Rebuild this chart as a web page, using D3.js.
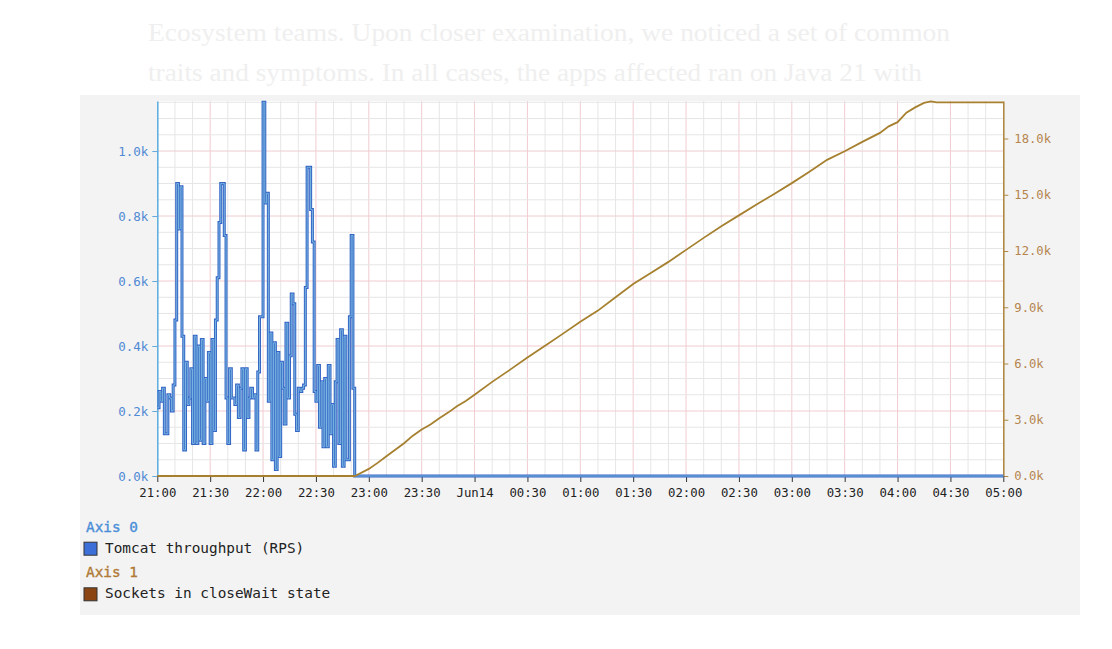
<!DOCTYPE html>
<html><head><meta charset="utf-8">
<script src="https://cdn.jsdelivr.net/npm/d3@7"></script>
<style>body{margin:0;background:#fff}svg{display:block}</style>
</head><body><svg id="c" width="1112" height="649"></svg>
<script>
// ---- data ----
const bgText = [
  "Ecosystem teams. Upon closer examination, we noticed a set of common",
  "traits and symptoms. In all cases, the apps affected ran on Java 21 with"
];
const xStart = "21:00";
const xEnd = "05:00";
const xTickStep = 30; // minutes
const leftTicks = [0, 200, 400, 600, 800, 1000];
const rightTicks = [0, 3000, 6000, 9000, 12000, 15000, 18000];
const seriesNames = ["Tomcat throughput (RPS)", "Sockets in closeWait state"];
const axisNames = ["Axis 0", "Axis 1"];

// Tomcat throughput (RPS), one sample per minute starting 21:00
const blueStart = "21:00";
const blueValues = [
  210,260,230,270,130,130,250,240,200,280,
  480,900,760,890,430,80,350,220,240,330,
  100,430,100,400,110,420,100,300,230,380,
  100,420,140,480,610,780,900,900,740,240,
  100,330,240,240,220,280,180,270,330,80,
  330,180,240,270,240,250,80,320,490,490,
  1150,840,870,230,440,50,410,20,380,60,
  350,270,160,470,240,370,560,530,190,140,
  270,260,270,280,580,950,950,820,720,260,
  230,340,150,290,90,300,90,340,130,220,
  30,290,420,100,450,30,430,50,50,490,
  740,270,0
];
const blueTailTime = "05:00";
const blueTailValue = 0;

// Sockets in closeWait state
const brownTimes = ["21:00","22:52","22:53","23:00","23:05","23:10","23:15","23:20","23:25","23:30","23:35","23:40","23:45","23:50","23:55","00:00",
  "00:10","00:20","00:30","00:40","00:50","01:00","01:10","01:20","01:30","01:40","01:50",
  "02:00","02:10","02:20","02:30","02:40","02:50","03:00","03:10","03:20","03:30","03:40",
  "03:50","03:55","04:00","04:05","04:10","04:15","04:19","04:22","05:00"];
const brownValues = [0,0,40,380,700,1050,1400,1750,2150,2480,2750,3080,3380,3720,4000,4330,
  5020,5660,6320,6950,7580,8230,8820,9530,10240,10830,11420,
  12060,12700,13320,13900,14480,15040,15620,16230,16860,17320,17820,
  18300,18650,18870,19380,19660,19900,19980,19930,19930];

// ---- helpers ----
function t(hm) {
  const [h, m] = hm.split(":").map(Number);
  const day = h < 12 ? 14 : 13;
  return new Date(2024, 5, day, h, m);
}

const svg = d3.select("#c");
const mono = "'DejaVu Sans Mono', 'Liberation Mono', monospace";

// background article text
svg.selectAll("text.bg").data(bgText).join("text")
  .attr("x", 148).attr("y", (d, i) => 41 + i * 39.5)
  .attr("font-family", "'Liberation Serif', serif")
  .attr("font-size", 25.5)
  .attr("fill", "#efefef")
  .attr("textLength", (d, i) => i === 0 ? 802 : 774)
  .attr("lengthAdjust", "spacingAndGlyphs")
  .text(d => d);

// panel
svg.append("rect").attr("x", 80).attr("y", 95).attr("width", 1000).attr("height", 520).attr("fill", "#f3f3f3");

const x = d3.scaleTime().domain([t(xStart), t(xEnd)]).range([157.3, 1003.3]);
const yL = d3.scaleLinear().domain([0, 1154]).range([476, 101]);
const yR = d3.scaleLinear().domain([0, 20000]).range([476, 101]);

// plot background
svg.append("rect").attr("x", x.range()[0]).attr("y", 101)
  .attr("width", x.range()[1] - x.range()[0]).attr("height", 375).attr("fill", "#fff");

// grid
const g = svg.append("g");
const minorX = d3.timeMinute.every(10).range(t(xStart), t(xEnd));
g.selectAll("line.vx").data(minorX.slice(1)).join("line")
  .attr("x1", d => x(d)).attr("x2", d => x(d)).attr("y1", 101).attr("y2", 476)
  .attr("stroke", d => d.getMinutes() % 30 === 0 ? "#f0ccd0" : "#e6e6e6")
  .attr("stroke-width", 1);
const minorY = d3.range(50, 1154, 50);
g.selectAll("line.hy").data(minorY).join("line")
  .attr("x1", x.range()[0]).attr("x2", x.range()[1])
  .attr("y1", d => yL(d)).attr("y2", d => yL(d))
  .attr("stroke", d => d % 200 === 0 ? "#f0ccd0" : "#e6e6e6")
  .attr("stroke-width", 1);

// axes
const fmtK = d => (d / 1000).toFixed(1) + "k";
const ax0 = svg.append("g").attr("transform", `translate(${x.range()[0]},0)`)
  .call(d3.axisLeft(yL).tickValues(leftTicks).tickFormat(fmtK).tickSize(5).tickSizeOuter(0).tickPadding(4));
ax0.select(".domain").attr("stroke", "#62b0e0").attr("stroke-width", 1.6);
ax0.selectAll(".tick line").attr("stroke", "#62a8dc");
ax0.selectAll("text").attr("fill", "#5089d4").attr("font-family", mono).attr("font-size", 12.5);

const ax1 = svg.append("g").attr("transform", `translate(${x.range()[1]},0)`)
  .call(d3.axisRight(yR).tickValues(rightTicks).tickFormat(fmtK).tickSize(5).tickSizeOuter(0).tickPadding(6));
ax1.select(".domain").attr("stroke", "#b08a45").attr("stroke-width", 1.6);
ax1.selectAll(".tick line").attr("stroke", "#b08a45");
ax1.selectAll("text").attr("fill", "#b5854e").attr("font-family", mono).attr("font-size", 12.2);

const xFmt = d => (d.getHours() === 0 && d.getMinutes() === 0) ? "Jun14" : d3.timeFormat("%H:%M")(d);
const axX = svg.append("g").attr("transform", "translate(0,476)")
  .call(d3.axisBottom(x).ticks(d3.timeMinute.every(xTickStep)).tickFormat(xFmt).tickSize(6).tickSizeOuter(0).tickPadding(6));
axX.select(".domain").attr("stroke", "#cfcfcf");
axX.selectAll(".tick line").attr("stroke", "#333");
axX.selectAll("text").attr("fill", "#222").attr("font-family", mono).attr("font-size", 12.3);

// blue series
const blueStartDate = t(blueStart);
const bluePts = blueValues.map((v, i) => [d3.timeMinute.offset(blueStartDate, i), v]);
bluePts.push([t(blueTailTime), blueTailValue]);
const blueLine = d3.line().x(d => x(d[0])).y(d => yL(d[1])).curve(d3.curveStepAfter);
svg.append("path").attr("d", blueLine(bluePts)).attr("fill", "none")
  .attr("stroke", "#3566c6").attr("stroke-width", 3).attr("stroke-linejoin", "miter");
svg.append("path").attr("d", blueLine(bluePts)).attr("fill", "none")
  .attr("stroke", "#7ab6e0").attr("stroke-width", 1);

// brown series
const brownPts = brownTimes.map((s, i) => [t(s), brownValues[i]]);
svg.append("path")
  .attr("d", d3.line().x(d => x(d[0])).y(d => yR(d[1]))(brownPts))
  .attr("fill", "none").attr("stroke", "#a6802f").attr("stroke-width", 1.8);

// legend
const leg = svg.append("g").attr("font-family", mono).attr("font-size", 14.4);
const legColors = ["#3d6fd8", "#8b4513"];
const axisColors = ["#4a8ed8", "#b07a35"];
[0, 1].forEach(i => {
  const y0 = 531.7 + i * 45.6;
  leg.append("text").attr("x", 86).attr("y", y0).attr("fill", axisColors[i])
    .attr("stroke", axisColors[i]).attr("stroke-width", 0.35).text(axisNames[i]);
  leg.append("rect").attr("x", 84).attr("y", y0 + 10.5).attr("width", 13).attr("height", 13)
    .attr("fill", legColors[i]).attr("stroke", "#333").attr("stroke-width", 1);
  leg.append("text").attr("x", 105).attr("y", y0 + 21).attr("fill", "#222").text(seriesNames[i]);
});
</script>
</body></html>
